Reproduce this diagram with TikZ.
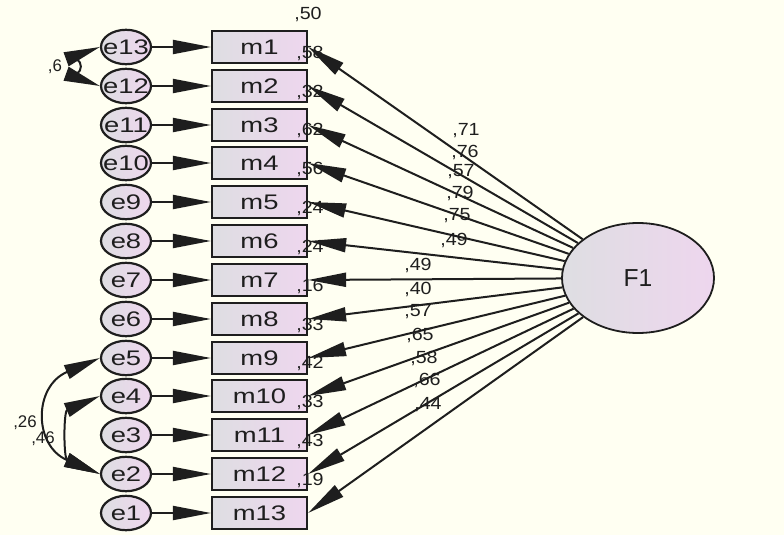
\documentclass[tikz,border=0pt]{standalone}
\usepackage{fontspec}
\setmainfont{Liberation Sans}
\newfontfamily\boxfont[FakeStretch=1.3]{Liberation Sans}
\newfontfamily\valuefont[FakeStretch=1.12]{Liberation Sans}
\usepackage{tikz}
\usetikzlibrary{arrows.meta,shapes.geometric}
\definecolor{canvas}{RGB}{255,255,242}
\definecolor{amosgray}{RGB}{222,222,226}
\definecolor{amospink}{RGB}{238,214,238}
\definecolor{ink}{RGB}{30,30,30}
\tikzstyle{Observed}=[minimum width=23.75mm, minimum height=8mm, inner sep=0pt, line width=0.55mm, draw=ink, shape=rectangle, left color=amosgray, right color=amospink, text=ink, font=\boxfont\fontsize{15}{17}\selectfont]
\tikzstyle{Error}=[minimum width=12.5mm, minimum height=8.6mm, inner sep=0pt, line width=0.55mm, draw=ink, shape=ellipse, left color=amosgray, right color=amospink, text=ink, font=\boxfont\fontsize{15}{17}\selectfont]
\tikzstyle{Latent}=[minimum width=38mm, minimum height=27.5mm, inner sep=0pt, line width=0.45mm, draw=ink, shape=ellipse, left color=amosgray, right color=amospink, text=ink, font=\fontsize{17.5}{20}\selectfont]
\tikzstyle{Estimate}=[inner sep=0pt, text=ink, font=\valuefont\fontsize{12.5}{14}\selectfont]
\tikzstyle{Correlation}=[inner sep=0pt, text=ink, font=\fontsize{12}{14}\selectfont]
\tikzstyle{regression}=[-{Triangle[length=9.5mm, width=3.5mm]}, line width=0.5mm, draw=ink]
\tikzstyle{covariance}=[{Triangle[length=9mm, width=3.6mm]}-{Triangle[length=9mm, width=3.6mm]}, line width=0.5mm, draw=ink]
\pgfdeclarelayer{nodelayer}
\pgfdeclarelayer{edgelayer}
\pgfsetlayers{main, nodelayer, edgelayer}

\begin{document}
\begin{tikzpicture}[x=0.25mm, y=0.25mm]
	\fill [canvas] (0, 0) rectangle (784, 535);
	\useasboundingbox (0, 0) rectangle (784, 535);
	\begin{pgfonlayer}{nodelayer}
		% observed items
		\node [style=Observed] (m1) at (259.5, 488) {m1};
		\node [style=Observed] (m2) at (259.5, 449) {m2};
		\node [style=Observed] (m3) at (259.5, 410) {m3};
		\node [style=Observed] (m4) at (259.5, 372) {m4};
		\node [style=Observed] (m5) at (259.5, 333) {m5};
		\node [style=Observed] (m6) at (259.5, 294) {m6};
		\node [style=Observed] (m7) at (259.5, 255) {m7};
		\node [style=Observed] (m8) at (259.5, 216) {m8};
		\node [style=Observed] (m9) at (259.5, 177) {m9};
		\node [style=Observed] (m10) at (259.5, 139) {m10};
		\node [style=Observed] (m11) at (259.5, 100) {m11};
		\node [style=Observed] (m12) at (259.5, 61) {m12};
		\node [style=Observed] (m13) at (259.5, 22) {m13};
		% error terms
		\node [style=Error] (e13) at (126, 488) {\makebox[0pt]{e13}};
		\node [style=Error] (e12) at (126, 449) {\makebox[0pt]{e12}};
		\node [style=Error] (e11) at (126, 410) {\makebox[0pt]{e11}};
		\node [style=Error] (e10) at (126, 372) {\makebox[0pt]{e10}};
		\node [style=Error] (e9) at (126, 333) {\makebox[0pt]{e9}};
		\node [style=Error] (e8) at (126, 294) {\makebox[0pt]{e8}};
		\node [style=Error] (e7) at (126, 255) {\makebox[0pt]{e7}};
		\node [style=Error] (e6) at (126, 216) {\makebox[0pt]{e6}};
		\node [style=Error] (e5) at (126, 177) {\makebox[0pt]{e5}};
		\node [style=Error] (e4) at (126, 139) {\makebox[0pt]{e4}};
		\node [style=Error] (e3) at (126, 100) {\makebox[0pt]{e3}};
		\node [style=Error] (e2) at (126, 61) {\makebox[0pt]{e2}};
		\node [style=Error] (e1) at (126, 22) {\makebox[0pt]{e1}};
		% factor
		\node [style=Latent] (F1) at (638, 257) {F1};
		% squared multiple correlations
		\node [style=Estimate] (r1) at (308, 521) {,50};
		\node [style=Estimate] (r2) at (310, 482) {,58};
		\node [style=Estimate] (r3) at (310, 443) {,32};
		\node [style=Estimate] (r4) at (310, 405) {,62};
		\node [style=Estimate] (r5) at (310, 366) {,56};
		\node [style=Estimate] (r6) at (310, 327) {,24};
		\node [style=Estimate] (r7) at (310, 288) {,24};
		\node [style=Estimate] (r8) at (310, 249) {,16};
		\node [style=Estimate] (r9) at (310, 210) {,33};
		\node [style=Estimate] (r10) at (310, 172) {,42};
		\node [style=Estimate] (r11) at (310, 133) {,33};
		\node [style=Estimate] (r12) at (310, 94) {,43};
		\node [style=Estimate] (r13) at (310, 55) {,19};
		% loadings
		\node [style=Estimate] (l1) at (466, 404) {,71};
		\node [style=Estimate] (l2) at (465, 383) {,76};
		\node [style=Estimate] (l3) at (461, 363) {,57};
		\node [style=Estimate] (l4) at (460, 342) {,79};
		\node [style=Estimate] (l5) at (457, 319) {,75};
		\node [style=Estimate] (l6) at (454, 295) {,49};
		\node [style=Estimate] (l7) at (418, 270) {,49};
		\node [style=Estimate] (l8) at (418, 246) {,40};
		\node [style=Estimate] (l9) at (418, 223) {,57};
		\node [style=Estimate] (l10) at (420, 200) {,65};
		\node [style=Estimate] (l11) at (424, 177) {,58};
		\node [style=Estimate] (l12) at (427, 155) {,66};
		\node [style=Estimate] (l13) at (428, 130) {,44};
		% error correlations
		\node [style=Correlation] (c1) at (55, 468) {,6};
		\node [style=Correlation] (c2) at (25, 112) {,26};
		\node [style=Correlation] (c3) at (43, 96) {,46};
	\end{pgfonlayer}
	\begin{pgfonlayer}{edgelayer}
		% errors to items
		\draw [style=regression] (e13) to (m1);
		\draw [style=regression] (e12) to (m2);
		\draw [style=regression] (e11) to (m3);
		\draw [style=regression] (e10) to (m4);
		\draw [style=regression] (e9) to (m5);
		\draw [style=regression] (e8) to (m6);
		\draw [style=regression] (e7) to (m7);
		\draw [style=regression] (e6) to (m8);
		\draw [style=regression] (e5) to (m9);
		\draw [style=regression] (e4) to (m10);
		\draw [style=regression] (e3) to (m11);
		\draw [style=regression] (e2) to (m12);
		\draw [style=regression] (e1) to (m13);
		% factor to items
		\draw [style=regression] (F1) to (m1.east);
		\draw [style=regression] (F1) to (m2.east);
		\draw [style=regression] (F1) to (m3.east);
		\draw [style=regression] (F1) to (m4.east);
		\draw [style=regression] (F1) to (m5.east);
		\draw [style=regression] (F1) to (m6.east);
		\draw [style=regression] (F1) to (m7.east);
		\draw [style=regression] (F1) to (m8.east);
		\draw [style=regression] (F1) to (m9.east);
		\draw [style=regression] (F1) to (m10.east);
		\draw [style=regression] (F1) to (m11.east);
		\draw [style=regression] (F1) to (m12.east);
		\draw [style=regression] (F1) to (m13.east);
		% covariances
		\draw [style=covariance] (e13.west) to [out=200, in=160, looseness=1] (e12.west);
		\draw [style=covariance] (e5.west) to [out=203, in=157, looseness=1.6] (e2.west);
		\draw [style=covariance] (e4.west) to [out=203, in=157, looseness=1.3] (e2.west);
	\end{pgfonlayer}
\end{tikzpicture}
\end{document}
